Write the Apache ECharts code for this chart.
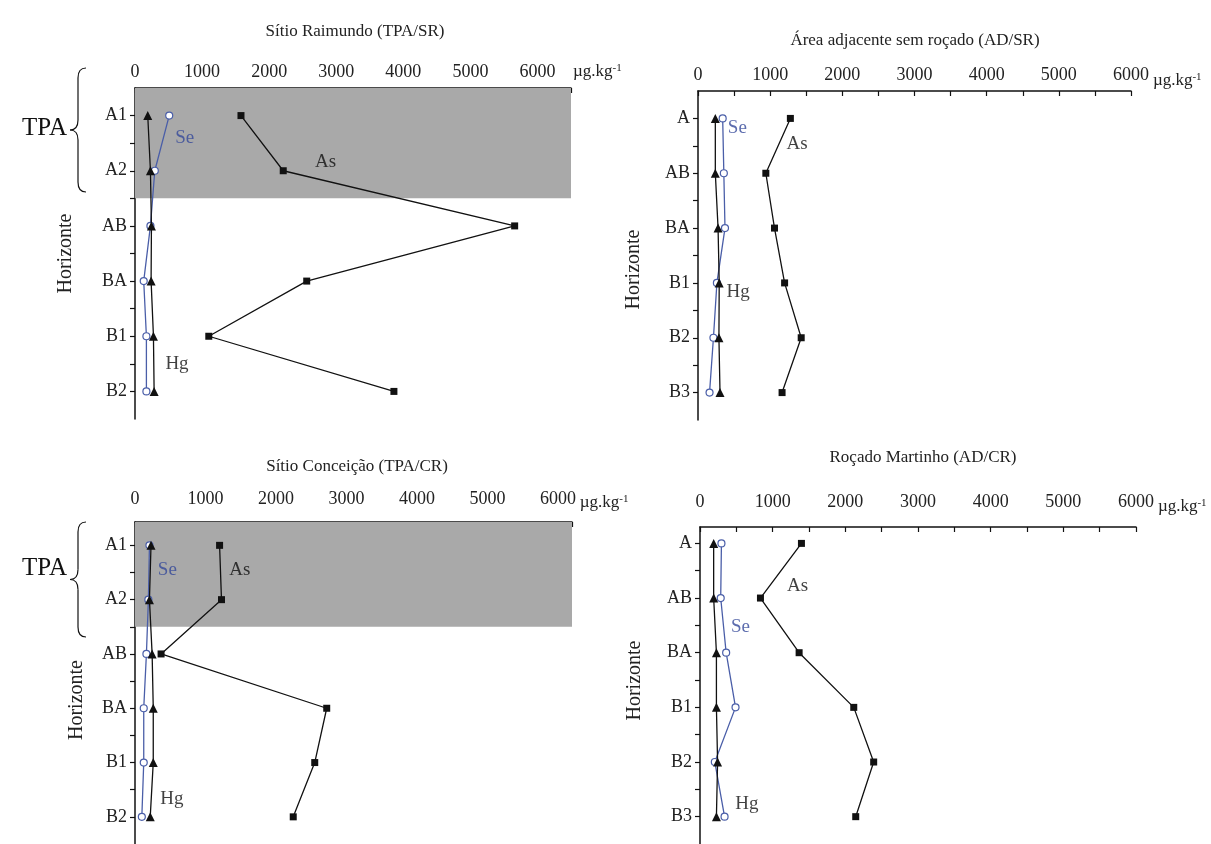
<!DOCTYPE html>
<html><head><meta charset="utf-8">
<script src="https://cdn.jsdelivr.net/npm/echarts@6/dist/echarts.min.js"></script>
<style>html,body{margin:0;padding:0;background:#fff}#c{width:1211px;height:844px}</style>
</head><body><div id="c"></div>
<script>
// ---------- data ----------
const horizonsTPA = ['A1', 'A2', 'AB', 'BA', 'B1', 'B2'];
const horizonsAD = ['A', 'AB', 'BA', 'B1', 'B2', 'B3'];
const panelTitles = ['Sítio Raimundo (TPA/SR)', 'Área adjacente sem roçado (AD/SR)', 'Sítio Conceição (TPA/CR)', 'Roçado Martinho (AD/CR)'];
const xTickLabels = [0, 1000, 2000, 3000, 4000, 5000, 6000];
const unitLabel = 'µg.kg';
const unitExp = '-1';
const yAxisTitle = 'Horizonte';
const seriesNames = ['As', 'Se', 'Hg'];

// Panel 1 – Sítio Raimundo (TPA/SR)
const p1As = [1580, 2210, 5660, 2560, 1100, 3860];
const p1Se = [510, 295, 230, 130, 170, 170];
const p1Hg = [190, 230, 245, 240, 275, 285];
// Panel 2 – Área adjacente sem roçado (AD/SR)
const p2As = [1280, 940, 1060, 1200, 1430, 1165];
const p2Se = [342, 358, 374, 262, 214, 160];
const p2Hg = [240, 240, 278, 294, 290, 305];
// Panel 3 – Sítio Conceição (TPA/CR)
const p3As = [1200, 1227, 370, 2720, 2550, 2245];
const p3Se = [205, 190, 162, 124, 124, 97];
const p3Hg = [227, 205, 243, 259, 259, 216];
// Panel 4 – Roçado Martinho (AD/CR)
const p4As = [1396, 832, 1364, 2116, 2390, 2143];
const p4Se = [295, 285, 360, 489, 204, 338];
const p4Hg = [188, 188, 226, 226, 242, 226];

// in-plot element labels [text, x value, horizon position]
const p1Notes = [['Se', 740, 1.4], ['As', 2840, 1.85], ['Hg', 626, 5.5]];
const p2Notes = [['Se', 545, 1.18], ['As', 1374, 1.47], ['Hg', 556, 4.16]];
const p3Notes = [['Se', 459, 1.45], ['As', 1486, 1.45], ['Hg', 524, 5.68]];
const p4Notes = [['Se', 558, 2.53], ['As', 1343, 1.78], ['Hg', 644, 5.76]];

// ---------- layout / style ----------
const FONT = 'Liberation Serif';
const SE_BLUE = '#4a5ea8';
const SE_TEXT = '#34489a';
const panels = [
  {grid:{left:135, top:88, width:436, height:331}, xMax:6500, yMin:0.5, names:horizonsTPA, as:p1As, se:p1Se, hg:p1Hg, notes:p1Notes, band:true, labMargin:7, unitGap:2, unitPad:32, nameGap:59, namePad:[0,0,0,0]},
  {grid:{left:698, top:91, width:433, height:329}, xMax:6000, yMin:0.5, names:horizonsAD, as:p2As, se:p2Se, hg:p2Hg, notes:p2Notes, band:false, labMargin:7, unitGap:4, unitPad:20, nameGap:54, namePad:[0,28,0,0]},
  {grid:{left:135, top:522, width:437, height:331}, xMax:6200, yMin:0.57, names:horizonsTPA, as:p3As, se:p3Se, hg:p3Hg, notes:p3Notes, band:true, labMargin:14, unitGap:2, unitPad:38, nameGap:48, namePad:[0,34,0,0]},
  {grid:{left:700, top:527, width:436, height:318}, xMax:6000, yMin:0.7, names:horizonsAD, as:p4As, se:p4Se, hg:p4Hg, notes:p4Notes, band:false, labMargin:16, unitGap:5, unitPad:40, nameGap:55, namePad:[0,0,0,10]}
];
const titlePos = [[350, 18], [910, 27], [352, 453], [918, 444]];

const grids = [], xAxes = [], yAxes = [], series = [], titles = [];
const yTickVals = [1, 1.5, 2, 2.5, 3, 3.5, 4, 4.5, 5, 5.5, 6];
const yLabelVals = [1, 2, 3, 4, 5, 6];
const axisLine = {show:true, lineStyle:{color:'#111', width:1.5}};

panels.forEach((p, i) => {
  grids.push(Object.assign({containLabel:false}, p.grid));
  titles.push({text: panelTitles[i], left: titlePos[i][0], top: titlePos[i][1], textAlign:'center',
    textStyle:{fontFamily:FONT, fontSize:17, fontWeight:'normal', color:'#222'}});
  xAxes.push({
    type:'value', gridIndex:i, position:'top', min:0, max:p.xMax, interval:500,
    axisLine: axisLine, splitLine:{show:false},
    axisTick:{show:true, inside:true, length:5, lineStyle:{color:'#111', width:1.2}},
    axisLabel:{show:true, margin:p.labMargin, fontFamily:FONT, fontSize:18, color:'#222',
      showMaxLabel:true, showMinLabel:true,
      formatter: v => (xTickLabels.indexOf(v) >= 0 ? String(v) : '')},
    name: '{u|' + unitLabel + '}{s|' + unitExp + '}', nameLocation:'end', nameGap:p.unitGap,
    nameTextStyle:{align:'left', verticalAlign:'middle', padding:[0,0,p.unitPad,0],
      rich:{u:{fontFamily:FONT, fontSize:17, color:'#222'}, s:{fontFamily:FONT, fontSize:11, color:'#222', verticalAlign:'top', padding:[0,0,8,0]}}}
  });
  yAxes.push({
    type:'value', gridIndex:i, inverse:true, min:p.yMin, max:6.5,
    axisLine: axisLine, splitLine:{show:false},
    axisTick:{show:true, inside:false, length:5, customValues:yTickVals, lineStyle:{color:'#111', width:1.2}},
    axisLabel:{show:true, customValues:yLabelVals, margin:8, fontFamily:FONT, fontSize:18, color:'#222',
      formatter: v => p.names[Math.round(v) - 1] || ''},
    name: yAxisTitle, nameLocation:'middle', nameRotate:90, nameGap:p.nameGap,
    nameTextStyle:{fontFamily:FONT, fontSize:20, color:'#222', padding:p.namePad}
  });
  const pts = arr => arr.map((v, k) => [v, k + 1]);
  if (p.band) {
    series.push({type:'line', xAxisIndex:i, yAxisIndex:i, data:[], silent:true, z:1,
      markArea:{silent:true, itemStyle:{color:'#a9a9a9'}, data:[[{yAxis:p.yMin}, {yAxis:2.5}]]}});
  }
  series.push({name:seriesNames[0], type:'line', xAxisIndex:i, yAxisIndex:i, data:pts(p.as), z:3,
    symbol:'rect', symbolSize:7, lineStyle:{color:'#111', width:1.3}, itemStyle:{color:'#111'}});
  series.push({name:seriesNames[1], type:'line', xAxisIndex:i, yAxisIndex:i, data:pts(p.se), z:3,
    symbol:'circle', symbolSize:7, showAllSymbol:true, lineStyle:{color:SE_BLUE, width:1.3},
    itemStyle:{color:'#fff', borderColor:SE_BLUE, borderWidth:1.2}});
  series.push({name:seriesNames[2], type:'line', xAxisIndex:i, yAxisIndex:i, data:pts(p.hg), z:4,
    symbol:'triangle', symbolSize:9, lineStyle:{color:'#111', width:1.3}, itemStyle:{color:'#111'}});
  series.push({type:'scatter', xAxisIndex:i, yAxisIndex:i, z:5, silent:true, symbolSize:1,
    itemStyle:{color:'rgba(0,0,0,0)'},
    data: p.notes.map(n => ({name:n[0], value:[n[1], n[2]], label:{color: n[0] === 'Se' ? SE_TEXT : '#111'}})),
    label:{show:true, position:'inside', formatter:'{b}', fontFamily:FONT, fontSize:19}
  });
});

function braceParts(x0, yTop, yBot) {
  const yMid = (yTop + yBot) / 2, xs = x0 + 8, xe = x0 + 16;
  const st = {stroke:'#111', lineWidth:1.2, fill:null};
  return [
    {type:'bezierCurve', shape:{x1:xe, y1:yTop, cpx1:xs, cpy1:yTop, x2:xs, y2:yTop + 10}, style:st},
    {type:'line', shape:{x1:xs, y1:yTop + 10, x2:xs, y2:yMid - 10}, style:st},
    {type:'bezierCurve', shape:{x1:xs, y1:yMid - 10, cpx1:xs, cpy1:yMid, x2:x0, y2:yMid}, style:st},
    {type:'bezierCurve', shape:{x1:x0, y1:yMid, cpx1:xs, cpy1:yMid, x2:xs, y2:yMid + 10}, style:st},
    {type:'line', shape:{x1:xs, y1:yMid + 10, x2:xs, y2:yBot - 10}, style:st},
    {type:'bezierCurve', shape:{x1:xs, y1:yBot - 10, cpx1:xs, cpy1:yBot, x2:xe, y2:yBot}, style:st}
  ];
}

const graphic = [
  {type:'text', left:22, top:116, style:{text:'TPA', font:'25px "' + FONT + '"', fill:'#111'}},
  {type:'text', left:22, top:556, style:{text:'TPA', font:'25px "' + FONT + '"', fill:'#111'}}
].concat(braceParts(70, 68, 192), braceParts(70, 522, 637));

const chart = echarts.init(document.getElementById('c'), null, {renderer:'canvas'});
chart.setOption({
  animation:false, backgroundColor:'#fff',
  title:titles, grid:grids, xAxis:xAxes, yAxis:yAxes, series:series, graphic:graphic
});
</script></body></html>
